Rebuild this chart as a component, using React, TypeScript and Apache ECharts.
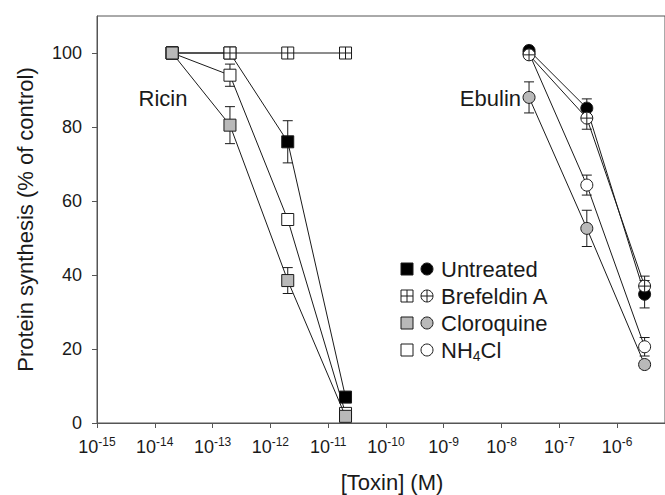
import React, { useEffect, useRef } from "react";
import * as echarts from "echarts";

// ---- data ----
const ricinConc = [2e-14, 2e-13, 2e-12, 2e-11];
const ebulinConc = [3e-8, 3e-7, 3e-6];

const ricinUntreated = [100, 100, 76, 7];
const ricinUntreatedErr = [0, 0, 5.7, 1];
const ricinBrefeldin = [100, 100, 100, 100];
const ricinBrefeldinErr = [0, 0, 0, 0];
const ricinCloroquine = [100, 80.5, 38.5, 1.8];
const ricinCloroquineErr = [0, 5, 3.5, 0];
const ricinNH4Cl = [100, 94, 55, 2.6];
const ricinNH4ClErr = [0, 3, 1, 0];

const ebulinUntreated = [100.7, 85.1, 34.8];
const ebulinUntreatedErr = [0, 2.5, 3.7];
const ebulinBrefeldin = [99.5, 82.4, 37];
const ebulinBrefeldinErr = [0, 3, 2.7];
const ebulinCloroquine = [88, 52.6, 15.8];
const ebulinCloroquineErr = [4.2, 4.9, 1];
const ebulinNH4Cl = [100, 64.3, 20.6];
const ebulinNH4ClErr = [0, 2.7, 2.5];

const xTickExponents = [-15, -14, -13, -12, -11, -10, -9, -8, -7, -6];
const yTicks = [0, 20, 40, 60, 80, 100];
const legendLabels = ["Untreated", "Brefeldin A", "Cloroquine", "NH4Cl"];

const FONT = '"Liberation Sans", Arial, sans-serif';
const INK = "#1a1a1a";
const GRAY = "#b9b9b9";

const SQ_CROSS = "path://M0,0H12V12H0Z M6,0V12 M0,6H12";
const CI_CROSS = "path://M0,6A6,6,0,1,1,12,6A6,6,0,1,1,0,6Z M6,0V12 M0,6H12";

const styles = {
  Untreated: { sq: "rect", ci: "circle", fill: "#000" },
  Brefeldin: { sq: SQ_CROSS, ci: CI_CROSS, fill: "#fff" },
  Cloroquine: { sq: "rect", ci: "circle", fill: GRAY },
  NH4Cl: { sq: "rect", ci: "circle", fill: "#fff" },
};

function pts(conc: number[], vals: number[]) {
  return conc.map((c, i) => [Math.log10(c), vals[i]]);
}
function errPts(conc: number[], vals: number[], errs: number[]) {
  return conc.map((c, i) => [Math.log10(c), vals[i], errs[i]]);
}

function lineSeries(name: string, conc: number[], vals: number[], symbol: string, fill: string, z: number) {
  return {
    type: "line",
    name,
    data: pts(conc, vals),
    symbol,
    symbolSize: 12,
    symbolKeepAspect: true,
    showAllSymbol: true,
    z,
    lineStyle: { color: INK, width: 1 },
    itemStyle: { color: fill, borderColor: INK, borderWidth: 1, opacity: 1 },
    emphasis: { disabled: true },
    silent: true,
  };
}

export default function App() {
  const ref = useRef<HTMLDivElement>(null);
  useEffect(() => {
    if (!ref.current) return;
    const chart = echarts.init(ref.current, null, { renderer: "svg" });

    const errData = [
      ...errPts(ricinConc, ricinUntreated, ricinUntreatedErr),
      ...errPts(ricinConc, ricinBrefeldin, ricinBrefeldinErr),
      ...errPts(ricinConc, ricinCloroquine, ricinCloroquineErr),
      ...errPts(ricinConc, ricinNH4Cl, ricinNH4ClErr),
      ...errPts(ebulinConc, ebulinUntreated, ebulinUntreatedErr),
      ...errPts(ebulinConc, ebulinBrefeldin, ebulinBrefeldinErr),
      ...errPts(ebulinConc, ebulinCloroquine, ebulinCloroquineErr),
      ...errPts(ebulinConc, ebulinNH4Cl, ebulinNH4ClErr),
    ].filter((d) => d[2] > 0);

    const rows = [269, 296, 323, 350];
    const keys = ["Untreated", "Brefeldin", "Cloroquine", "NH4Cl"] as const;
    const legendEls: any[] = [];
    keys.forEach((k, i) => {
      const y = rows[i];
      const st = styles[k];
      legendEls.push({
        type: "rect",
        shape: { x: 401, y: y - 6, width: 12, height: 12 },
        style: { fill: st.fill, stroke: INK, lineWidth: 1 },
      });
      legendEls.push({
        type: "circle",
        shape: { cx: 427, cy: y, r: 6 },
        style: { fill: st.fill, stroke: INK, lineWidth: 1 },
      });
      if (k === "Brefeldin") {
        legendEls.push(
          { type: "line", shape: { x1: 407, y1: y - 6, x2: 407, y2: y + 6 }, style: { stroke: INK, lineWidth: 1 } },
          { type: "line", shape: { x1: 401, y1: y, x2: 413, y2: y }, style: { stroke: INK, lineWidth: 1 } },
          { type: "line", shape: { x1: 427, y1: y - 6, x2: 427, y2: y + 6 }, style: { stroke: INK, lineWidth: 1 } },
          { type: "line", shape: { x1: 421, y1: y, x2: 433, y2: y }, style: { stroke: INK, lineWidth: 1 } }
        );
      }
      const label = legendLabels[i];
      const isNH = label === "NH4Cl";
      legendEls.push({
        type: "text",
        x: 441,
        y,
        style: {
          text: isNH ? "{n|NH}{s|4}{n|Cl}" : label,
          rich: isNH
            ? {
                n: { fontSize: 22, fontFamily: FONT, fill: INK, color: INK, lineHeight: 26 },
                s: { fontSize: 14, fontFamily: FONT, fill: INK, color: INK, lineHeight: 14, verticalAlign: "bottom" },
              }
            : undefined,
          fontSize: 22,
          fontFamily: FONT,
          fill: INK,
          align: "left",
          textAlign: "left",
          verticalAlign: "middle",
          textVerticalAlign: "middle",
        },
      });
    });

    const option: any = {
      animation: false,
      textStyle: { fontFamily: FONT, color: INK },
      grid: {
        left: 97,
        right: -2,
        top: 16,
        bottom: 72,
        show: true,
        borderColor: "#555",
        borderWidth: 1,
        backgroundColor: "transparent",
      },
      xAxis: {
        type: "value",
        min: -15,
        max: -5.17,
        interval: 1,
        splitLine: { show: false },
        axisLine: { show: true, onZero: false, lineStyle: { color: "#555", width: 1 } },
        axisTick: { show: true, length: 5, lineStyle: { color: "#555" }, customValues: xTickExponents },
        axisLabel: {
          margin: 13,
          fontSize: 18,
          showMaxLabel: false,
          formatter: (v: number) =>
            Number.isInteger(v) && v <= -6 ? `{b|10}{s|${v}}` : "",
          rich: {
            b: { fontSize: 18, fontFamily: FONT, color: INK, lineHeight: 22 },
            s: { fontSize: 12, fontFamily: FONT, color: INK, lineHeight: 12, verticalAlign: "top" },
          },
        },
      },
      yAxis: {
        type: "value",
        min: 0,
        max: 110,
        interval: 20,
        name: "Protein synthesis (% of control)",
        nameLocation: "middle",
        nameGap: 61,
        nameTextStyle: { fontSize: 22, fontFamily: FONT, color: INK },
        splitLine: { show: false },
        axisLine: { show: true, lineStyle: { color: "#555", width: 1 } },
        axisTick: { show: true, length: 5, lineStyle: { color: "#555" }, customValues: yTicks },
        axisLabel: {
          fontSize: 18,
          fontFamily: FONT,
          color: INK,
          margin: 15,
          showMaxLabel: false,
          formatter: (v: number) => (v <= 100 ? String(v) : ""),
        },
      },
      graphic: [
        {
          type: "text",
          x: 392,
          y: 482,
          style: {
            text: "[Toxin] (M)",
            fontSize: 22,
            fontFamily: FONT,
            fill: INK,
            align: "center",
            textAlign: "center",
            verticalAlign: "middle",
            textVerticalAlign: "middle",
          },
        },
        {
          type: "text",
          x: 163,
          y: 98,
          style: {
            text: "Ricin",
            fontSize: 22,
            fontFamily: FONT,
            fill: INK,
            align: "center",
            textAlign: "center",
            verticalAlign: "middle",
            textVerticalAlign: "middle",
          },
        },
        {
          type: "text",
          x: 521,
          y: 98,
          style: {
            text: "Ebulin",
            fontSize: 22,
            fontFamily: FONT,
            fill: INK,
            align: "right",
            textAlign: "right",
            verticalAlign: "middle",
            textVerticalAlign: "middle",
          },
        },
        ...legendEls,
      ],
      series: [
        {
          type: "custom",
          name: "errors",
          z: 1,
          silent: true,
          data: errData,
          encode: { x: 0, y: 1 },
          renderItem: (params: any, api: any) => {
            const x = api.value(0);
            const y = api.value(1);
            const e = api.value(2);
            const top = api.coord([x, y + e]);
            const bot = api.coord([x, y - e]);
            const cw = 5;
            const st = { stroke: INK, lineWidth: 1 };
            return {
              type: "group",
              children: [
                { type: "line", shape: { x1: top[0], y1: top[1], x2: bot[0], y2: bot[1] }, style: st },
                { type: "line", shape: { x1: top[0] - cw, y1: top[1], x2: top[0] + cw, y2: top[1] }, style: st },
                { type: "line", shape: { x1: bot[0] - cw, y1: bot[1], x2: bot[0] + cw, y2: bot[1] }, style: st },
              ],
            };
          },
        },
        lineSeries("Ricin NH4Cl", ricinConc, ricinNH4Cl, styles.NH4Cl.sq, styles.NH4Cl.fill, 2),
        lineSeries("Ricin Untreated", ricinConc, ricinUntreated, styles.Untreated.sq, styles.Untreated.fill, 3),
        lineSeries("Ricin Brefeldin A", ricinConc, ricinBrefeldin, styles.Brefeldin.sq, styles.Brefeldin.fill, 4),
        lineSeries("Ricin Cloroquine", ricinConc, ricinCloroquine, styles.Cloroquine.sq, styles.Cloroquine.fill, 5),
        lineSeries("Ebulin NH4Cl", ebulinConc, ebulinNH4Cl, styles.NH4Cl.ci, styles.NH4Cl.fill, 2),
        lineSeries("Ebulin Untreated", ebulinConc, ebulinUntreated, styles.Untreated.ci, styles.Untreated.fill, 3),
        lineSeries("Ebulin Brefeldin A", ebulinConc, ebulinBrefeldin, styles.Brefeldin.ci, styles.Brefeldin.fill, 4),
        lineSeries("Ebulin Cloroquine", ebulinConc, ebulinCloroquine, styles.Cloroquine.ci, styles.Cloroquine.fill, 5),
      ],
    };

    chart.setOption(option);
    return () => chart.dispose();
  }, []);

  return <div ref={ref} style={{ width: 665, height: 495, position: "absolute", left: 0, top: 0 }} />;
}
